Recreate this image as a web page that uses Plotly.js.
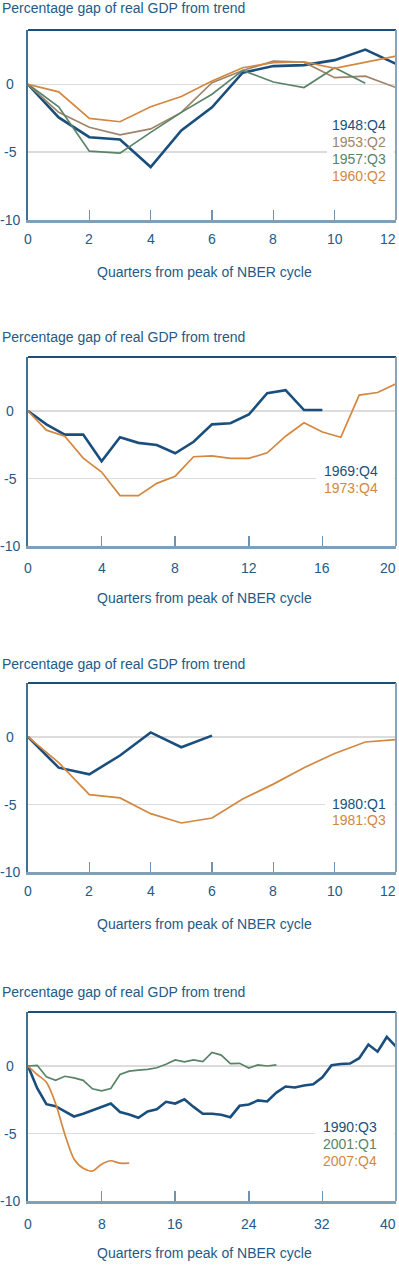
<!DOCTYPE html>
<html>
<head>
<meta charset="utf-8">
<script src="https://cdn.plot.ly/plotly-3.0.1.min.js"></script>
<style>html,body{margin:0;padding:0;background:#fff;}#chart{width:399px;height:1268px;}</style>
</head>
<body>
<div id="chart"></div>
<script>
// ---------- DATA ----------
const titleText = "Percentage gap of real GDP from trend";
const xTitleText = "Quarters from peak of NBER cycle";

// Panel 1
const p1_x = [0,1,2,3,4,5,6,7,8,9,10,11,12];
const s1948Q4 = [0,-2.44,-3.9,-4.07,-6.1,-3.4,-1.7,0.85,1.34,1.41,1.78,2.56,1.5];
const s1953Q2 = [0,-2.07,-3.17,-3.73,-3.29,-2.07,0.12,1.02,1.7,1.63,0.49,0.6,-0.24];
const s1957Q3 = [0,-1.66,-4.93,-5.07,-3.54,-2.07,-0.73,1.02,0.17,-0.24,1.22,0.07];
const s1960Q2 = [0,-0.56,-2.51,-2.76,-1.66,-0.9,0.24,1.22,1.59,1.66,1.17,1.63,2.07];
const p1_ticks = [0,2,4,6,8,10,12];

// Panel 2
const p2_x = [0,1,2,3,4,5,6,7,8,9,10,11,12,13,14,15,16,17,18,19,20];
const s1969Q4 = [0,-0.99,-1.75,-1.75,-3.73,-1.95,-2.36,-2.52,-3.13,-2.28,-0.99,-0.91,-0.26,1.32,1.54,0.07,0.07];
const s1973Q4 = [0,-1.42,-1.87,-3.49,-4.52,-6.27,-6.27,-5.36,-4.83,-3.39,-3.32,-3.51,-3.51,-3.1,-1.87,-0.87,-1.56,-1.95,1.18,1.37,2.02];
const p2_ticks = [0,4,8,12,16,20];

// Panel 3
const p3_x = [0,1,2,3,4,5,6,7,8,9,10,11,12];
const s1980Q1 = [0,-2.27,-2.76,-1.37,0.34,-0.76,0.1];
const s1981Q3 = [0,-1.9,-4.27,-4.51,-5.68,-6.37,-6.0,-4.59,-3.49,-2.27,-1.22,-0.37,-0.2];
const p3_ticks = [0,2,4,6,8,10,12];

// Panel 4
const p4_x = [0,1,2,3,4,5,6,7,8,9,10,11,12,13,14,15,16,17,18,19,20,21,22,23,24,25,26,27,28,29,30,31,32,33,34,35,36,37,38,39,40];
const s1990Q3 = [0,-1.64,-2.83,-2.98,-3.36,-3.74,-3.54,-3.28,-3.03,-2.78,-3.41,-3.59,-3.84,-3.36,-3.21,-2.65,-2.78,-2.47,-3.03,-3.54,-3.54,-3.61,-3.79,-2.95,-2.85,-2.55,-2.63,-1.97,-1.52,-1.59,-1.44,-1.36,-0.83,0.05,0.15,0.18,0.58,1.59,1.06,2.15,1.44];
const s2001Q1 = [0,0.05,-0.8,-1.06,-0.76,-0.88,-1.06,-1.69,-1.84,-1.67,-0.63,-0.38,-0.3,-0.25,-0.13,0.13,0.45,0.3,0.45,0.33,1.01,0.81,0.18,0.2,-0.15,0.08,0,0.08];
const s2007Q4 = [0,-0.63,-1.21,-2.78,-5.05,-6.89,-7.58,-7.78,-7.27,-7.02,-7.2,-7.2];
const p4_ticks = [0,8,16,24,32,40];

const yTicks = [0,-5,-10];
const yTickText = ["0","-5","-10"];

// ---------- STYLE ----------
const NAVY = "#1a4f7d", BROWN = "#a0846a", GREEN = "#5a8468", ORANGE = "#d4873f";
const TXT = "#245a86";
const FONT = "Liberation Sans, Arial, sans-serif";
const W = 399, H = 1268;

const panels = [
  {top:30,  bottom:220,  range:[0,12], ticks:p1_ticks, labelOff:19, titleY:8,    legendLeft:327, legendX:331, legendYs:[125,142,159,176]},
  {top:357, bottom:546,  range:[0,20], ticks:p2_ticks, labelOff:22, titleY:337,  legendLeft:316, legendX:323, legendYs:[471,488]},
  {top:683, bottom:872,  range:[0,12], ticks:p3_ticks, labelOff:19, titleY:664,  legendLeft:325, legendX:331, legendYs:[804,820]},
  {top:1012,bottom:1201, range:[0,40], ticks:p4_ticks, labelOff:23, titleY:992,  legendLeft:315, legendX:322, legendYs:[1127,1144,1161]}
];
const xL = 28, xR = 396;

const series = [
  {p:0, name:"1948:Q4", x:p1_x, y:s1948Q4, color:NAVY, w:2.6},
  {p:0, name:"1953:Q2", x:p1_x, y:s1953Q2, color:BROWN, w:1.7},
  {p:0, name:"1957:Q3", x:p1_x, y:s1957Q3, color:GREEN, w:1.7},
  {p:0, name:"1960:Q2", x:p1_x, y:s1960Q2, color:ORANGE, w:1.7},
  {p:1, name:"1969:Q4", x:p2_x, y:s1969Q4, color:NAVY, w:2.6},
  {p:1, name:"1973:Q4", x:p2_x, y:s1973Q4, color:ORANGE, w:1.7},
  {p:2, name:"1980:Q1", x:p3_x, y:s1980Q1, color:NAVY, w:2.6},
  {p:2, name:"1981:Q3", x:p3_x, y:s1981Q3, color:ORANGE, w:1.7},
  {p:3, name:"1990:Q3", x:p4_x, y:s1990Q3, color:NAVY, w:2.6},
  {p:3, name:"2001:Q1", x:p4_x, y:s2001Q1, color:GREEN, w:1.7},
  {p:3, name:"2007:Q4", x:p4_x, y:s2007Q4, color:ORANGE, w:1.7, spline:true}
];

const data = series.map(s => ({
  type:"scatter", mode:"lines",
  x: s.x.slice(0, s.y.length), y: s.y,
  name: s.name,
  xaxis: s.p === 0 ? "x" : "x" + (s.p+1),
  yaxis: s.p === 0 ? "y" : "y" + (s.p+1),
  line: {color:s.color, width:s.w, shape: s.spline ? "spline" : "linear", smoothing: 0.8},
  hoverinfo:"skip", showlegend:false
}));

const layout = {
  width:W, height:H,
  margin:{l:0,r:0,t:0,b:0},
  paper_bgcolor:"#fff", plot_bgcolor:"#fff",
  font:{family:FONT, size:14, color:TXT},
  showlegend:false,
  annotations:[], shapes:[]
};

panels.forEach((P, i) => {
  const sfx = i === 0 ? "" : String(i+1);
  const xa = "xaxis" + sfx, ya = "yaxis" + sfx;
  const yDom = [1 - P.bottom/H, 1 - P.top/H];
  layout[xa] = {
    domain:[xL/W, xR/W], range:P.range, anchor:"y"+sfx,
    tickmode:"array", tickvals:P.ticks,
    ticks:"inside", ticklen:10, tickwidth:1.5, tickcolor:"#6f93b2",
    showticklabels:false,
    showgrid:false, zeroline:false,
    showline:true, linecolor:"#7fa0b8", linewidth:2.5,
    fixedrange:true
  };
  layout[ya] = {
    domain:yDom, range:[-10,4], anchor:"x"+sfx,
    tickmode:"array", tickvals:yTicks,
    showticklabels:false, ticks:"",
    showgrid:true, gridcolor:"#dcdcdc", gridwidth:1.5,
    zeroline:false,
    showline:true, linecolor:"#46708f", linewidth:2,
    fixedrange:true
  };
  layout.shapes.push({type:"line", xref:"x"+sfx+" domain", yref:"y"+sfx+" domain", x0:0, x1:1, y0:1, y1:1, line:{color:"#1b4f7b", width:2}});
  layout.shapes.push({type:"line", xref:"x"+sfx+" domain", yref:"y"+sfx+" domain", x0:1, x1:1, y0:0, y1:1, line:{color:"#8aa3ba", width:2}});
  const legSeries = series.filter(s => s.p === i);
  const boxTop = P.legendYs[0] - 9, boxBot = P.legendYs[P.legendYs.length-1] + 9;
  layout.shapes.push({type:"rect", xref:"paper", yref:"paper", layer:"above",
    x0:P.legendLeft/W, x1:(xR-2)/W, y0:1-boxBot/H, y1:1-boxTop/H,
    fillcolor:"#fff", line:{width:0}});
  // y tick labels (centered)
  yTicks.forEach((v, k) => {
    layout.annotations.push({xref:"paper", yref:"y"+sfx, x:10/W, y:v, text:yTickText[k],
      showarrow:false, xanchor:"center", yanchor:"middle", font:{size:14, color:TXT, family:FONT}});
  });
  // x tick labels
  P.ticks.forEach((v, k) => {
    const last = k === P.ticks.length - 1;
    const ann = {yref:"paper", y:1-(P.bottom+P.labelOff)/H, text:String(v),
      showarrow:false, yanchor:"middle", font:{size:14, color:TXT, family:FONT}};
    if (last) { ann.xref = "paper"; ann.x = 398/W; ann.xanchor = "right"; }
    else { ann.xref = "x"+sfx; ann.x = v; ann.xanchor = "center"; }
    layout.annotations.push(ann);
  });
  // panel title
  layout.annotations.push({xref:"paper", yref:"paper", x:0, y:1-P.titleY/H, text:titleText,
    showarrow:false, xanchor:"left", yanchor:"middle", font:{size:14, color:TXT, family:FONT}});
  // x-axis title
  layout.annotations.push({xref:"paper", yref:"paper", x:204/W, y:1-(P.bottom+52)/H, text:xTitleText,
    showarrow:false, xanchor:"center", yanchor:"middle", font:{size:14, color:TXT, family:FONT}});
  // legend labels
  legSeries.forEach((s, k) => {
    layout.annotations.push({xref:"paper", yref:"paper", x:(P.legendX-1)/W, y:1-P.legendYs[k]/H, text:s.name,
      showarrow:false, xanchor:"left", yanchor:"middle", font:{size:14, color:s.color, family:FONT}});
  });
});

Plotly.newPlot("chart", data, layout, {displayModeBar:false, staticPlot:true});
</script>
</body>
</html>
